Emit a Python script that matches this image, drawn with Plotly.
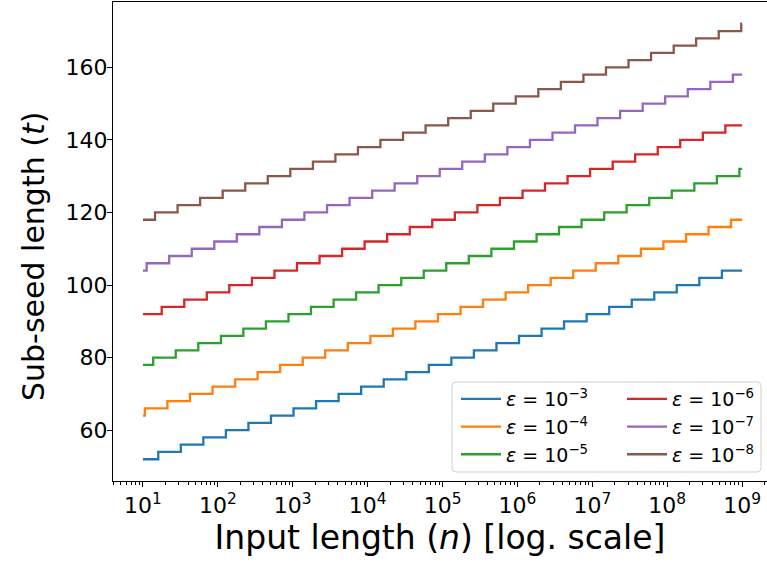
import plotly.graph_objects as go

# ---------------- data ----------------
n_start = 10
n_end = 1e9

labels = ["<i>ε</i> = 10<sup>−3</sup>", "<i>ε</i> = 10<sup>−4</sup>", "<i>ε</i> = 10<sup>−5</sup>",
          "<i>ε</i> = 10<sup>−6</sup>", "<i>ε</i> = 10<sup>−7</sup>", "<i>ε</i> = 10<sup>−8</sup>"]

# n at which each step up happens
steps_e3 = [16, 32, 64, 128, 256, 512, 1024, 2048, 4096, 8192, 16384, 32768, 65536,
            131072, 262144, 524288, 1.05e6, 2.10e6, 4.19e6, 8.39e6, 1.68e7, 3.36e7,
            6.71e7, 1.34e8, 2.68e8, 5.37e8]
steps_e4 = [10.6, 21.2, 42.4, 84.8, 170, 339, 678, 1360, 2710, 5430, 10900, 21700,
            43400, 86800, 174000, 347000, 695000, 1.39e6, 2.78e6, 5.56e6, 1.11e7,
            2.22e7, 4.45e7, 8.89e7, 1.78e8, 3.56e8, 7.11e8]
steps_e5 = [13.7, 27.4, 54.8, 110, 219, 438, 877, 1750, 3510, 7010, 14000, 28100,
            56100, 112000, 224000, 449000, 898000, 1.80e6, 3.59e6, 7.18e6, 1.44e7,
            2.87e7, 5.75e7, 1.15e8, 2.30e8, 4.60e8, 9.19e8]
steps_e6 = [17.8, 35.6, 71.2, 142, 285, 570, 1140, 2280, 4560, 9110, 18200, 36500,
            72900, 146000, 292000, 583000, 1.17e6, 2.33e6, 4.67e6, 9.33e6, 1.87e7,
            3.73e7, 7.47e7, 1.49e8, 2.99e8, 5.97e8]
steps_e7 = [11.2, 22.4, 44.8, 89.6, 179, 358, 717, 1430, 2870, 5730, 11500, 22900,
            45900, 91800, 183000, 367000, 734000, 1.47e6, 2.94e6, 5.87e6, 1.17e7,
            2.35e7, 4.70e7, 9.39e7, 1.88e8, 3.76e8, 7.52e8]
steps_e8 = [14.5, 29, 58, 116, 232, 464, 928, 1860, 3710, 7420, 14800, 29700, 59400,
            119000, 238000, 475000, 950000, 1.90e6, 3.80e6, 7.60e6, 1.52e7, 3.04e7,
            6.08e7, 1.22e8, 2.43e8, 4.87e8, 9.73e8]

# sub-seed length t on each level (first level holds from n = 10)
levels_e3 = [52, 54, 56, 58, 60, 62, 64, 66, 68, 70, 72, 74, 76, 78, 80, 82, 84, 86,
             88, 90, 92, 94, 96, 98, 100, 102, 104]
levels_e4 = [64, 66, 68, 70, 72, 74, 76, 78, 80, 82, 84, 86, 88, 90, 92, 94, 96, 98,
             100, 102, 104, 106, 108, 110, 112, 114, 116, 118]
levels_e5 = [78, 80, 82, 84, 86, 88, 90, 92, 94, 96, 98, 100, 102, 104, 106, 108, 110,
             112, 114, 116, 118, 120, 122, 124, 126, 128, 130, 132]
levels_e6 = [92, 94, 96, 98, 100, 102, 104, 106, 108, 110, 112, 114, 116, 118, 120,
             122, 124, 126, 128, 130, 132, 134, 136, 138, 140, 142, 144]
levels_e7 = [104, 106, 108, 110, 112, 114, 116, 118, 120, 122, 124, 126, 128, 130, 132,
             134, 136, 138, 140, 142, 144, 146, 148, 150, 152, 154, 156, 158]
levels_e8 = [118, 120, 122, 124, 126, 128, 130, 132, 134, 136, 138, 140, 142, 144, 146,
             148, 150, 152, 154, 156, 158, 160, 162, 164, 166, 168, 170, 172]

x_tick_vals = [1e1, 1e2, 1e3, 1e4, 1e5, 1e6, 1e7, 1e8, 1e9]
x_tick_text = ["10<sup>1</sup>", "10<sup>2</sup>", "10<sup>3</sup>", "10<sup>4</sup>",
               "10<sup>5</sup>", "10<sup>6</sup>", "10<sup>7</sup>", "10<sup>8</sup>",
               "10<sup>9</sup>"]
y_tick_vals = [60, 80, 100, 120, 140, 160]

x_title = "Input length (<i>n</i>) [log. scale]"
y_title = "Sub-seed length (<i>t</i>)"

colors = ["#1f77b4", "#ff7f0e", "#2ca02c", "#d62728", "#9467bd", "#8c564b"]

all_steps = [steps_e3, steps_e4, steps_e5, steps_e6, steps_e7, steps_e8]
all_levels = [levels_e3, levels_e4, levels_e5, levels_e6, levels_e7, levels_e8]

# ---------------- figure ----------------
W, H = 767, 566
ML, MR, MT, MB = 113, 0, 2, 85
FONT = "DejaVu Sans"

fig = go.Figure()
for i, (st, lv) in enumerate(zip(all_steps, all_levels)):
    xs = [n_start] + list(st) + [n_end]
    ys = list(lv) + [lv[-1]]
    fig.add_trace(go.Scatter(
        x=xs, y=ys, mode="lines", line=dict(color=colors[i], width=2.3, shape="hv"),
        name=labels[i], legend="legend" if i < 3 else "legend2",
        legendgroup="g%d" % i, hoverinfo="skip",
    ))

minor_vals = [m * 10 ** k for k in range(0, 10) for m in range(2, 10)]

fig.update_xaxes(
    type="log", range=[0.6, 9.332], automargin=False,
    tickmode="array", tickvals=x_tick_vals, ticktext=x_tick_text,
    ticks="outside", ticklen=5, tickwidth=1.1, tickcolor="black",
    minor=dict(tickvals=minor_vals, ticks="outside", ticklen=3, tickwidth=0.8,
               tickcolor="black"),
    showline=True, linecolor="black", linewidth=1.1, mirror=True,
    showgrid=False, zeroline=False,
    tickfont=dict(family=FONT, size=22, color="black"),
    title=dict(text=x_title,
               font=dict(family=FONT, size=33, color="black"), standoff=5),
)
fig.update_yaxes(
    range=[46, 178], automargin=False,
    tickmode="array", tickvals=y_tick_vals,
    ticks="outside", ticklen=5, tickwidth=1.1, tickcolor="black",
    ticklabelstandoff=-5,
    showline=True, linecolor="black", linewidth=1.1, mirror=False,
    showgrid=False, zeroline=False,
    tickfont=dict(family=FONT, size=22, color="black"),
)

pw = W - ML - MR
ph = H - MT - MB


def px2paper_x(px):
    return (px - ML) / pw


def px2paper_y(py):
    return (H - MB - py) / ph


# y-axis title as a rotated annotation
fig.add_annotation(
    text=y_title, textangle=-90, showarrow=False,
    xref="paper", yref="paper",
    x=px2paper_x(33), y=px2paper_y(257), xanchor="center", yanchor="middle",
    font=dict(family=FONT, size=30, color="black"),
)

# legend frame (rounded, light grey)
x0, x1, y0, y1, r = 452, 761, 382, 472, 4
path = (
    f"M {px2paper_x(x0 + r)},{px2paper_y(y0)} "
    f"L {px2paper_x(x1 - r)},{px2paper_y(y0)} "
    f"Q {px2paper_x(x1)},{px2paper_y(y0)} {px2paper_x(x1)},{px2paper_y(y0 + r)} "
    f"L {px2paper_x(x1)},{px2paper_y(y1 - r)} "
    f"Q {px2paper_x(x1)},{px2paper_y(y1)} {px2paper_x(x1 - r)},{px2paper_y(y1)} "
    f"L {px2paper_x(x0 + r)},{px2paper_y(y1)} "
    f"Q {px2paper_x(x0)},{px2paper_y(y1)} {px2paper_x(x0)},{px2paper_y(y1 - r)} "
    f"L {px2paper_x(x0)},{px2paper_y(y0 + r)} "
    f"Q {px2paper_x(x0)},{px2paper_y(y0)} {px2paper_x(x0 + r)},{px2paper_y(y0)} Z"
)
fig.add_shape(type="path", path=path, xref="paper", yref="paper",
              line=dict(color="#d0d0d0", width=1), fillcolor="rgba(255,255,255,0.8)",
              layer="below")

legend_common = dict(
    font=dict(family=FONT, size=19, color="black"),
    bgcolor="rgba(0,0,0,0)", borderwidth=0,
    tracegroupgap=0, itemwidth=40,
    xanchor="left", yanchor="top",
)
fig.update_layout(
    width=W, height=H,
    margin=dict(l=ML, r=MR, t=MT, b=MB),
    paper_bgcolor="white", plot_bgcolor="white",
    font=dict(family=FONT, color="black"),
    showlegend=True,
    legend=dict(x=px2paper_x(456), y=px2paper_y(380), **legend_common),
    legend2=dict(x=px2paper_x(622), y=px2paper_y(380), **legend_common),
)

fig.write_html("out.html", config={"displayModeBar": False},
               post_script="document.body.style.margin='0';")
